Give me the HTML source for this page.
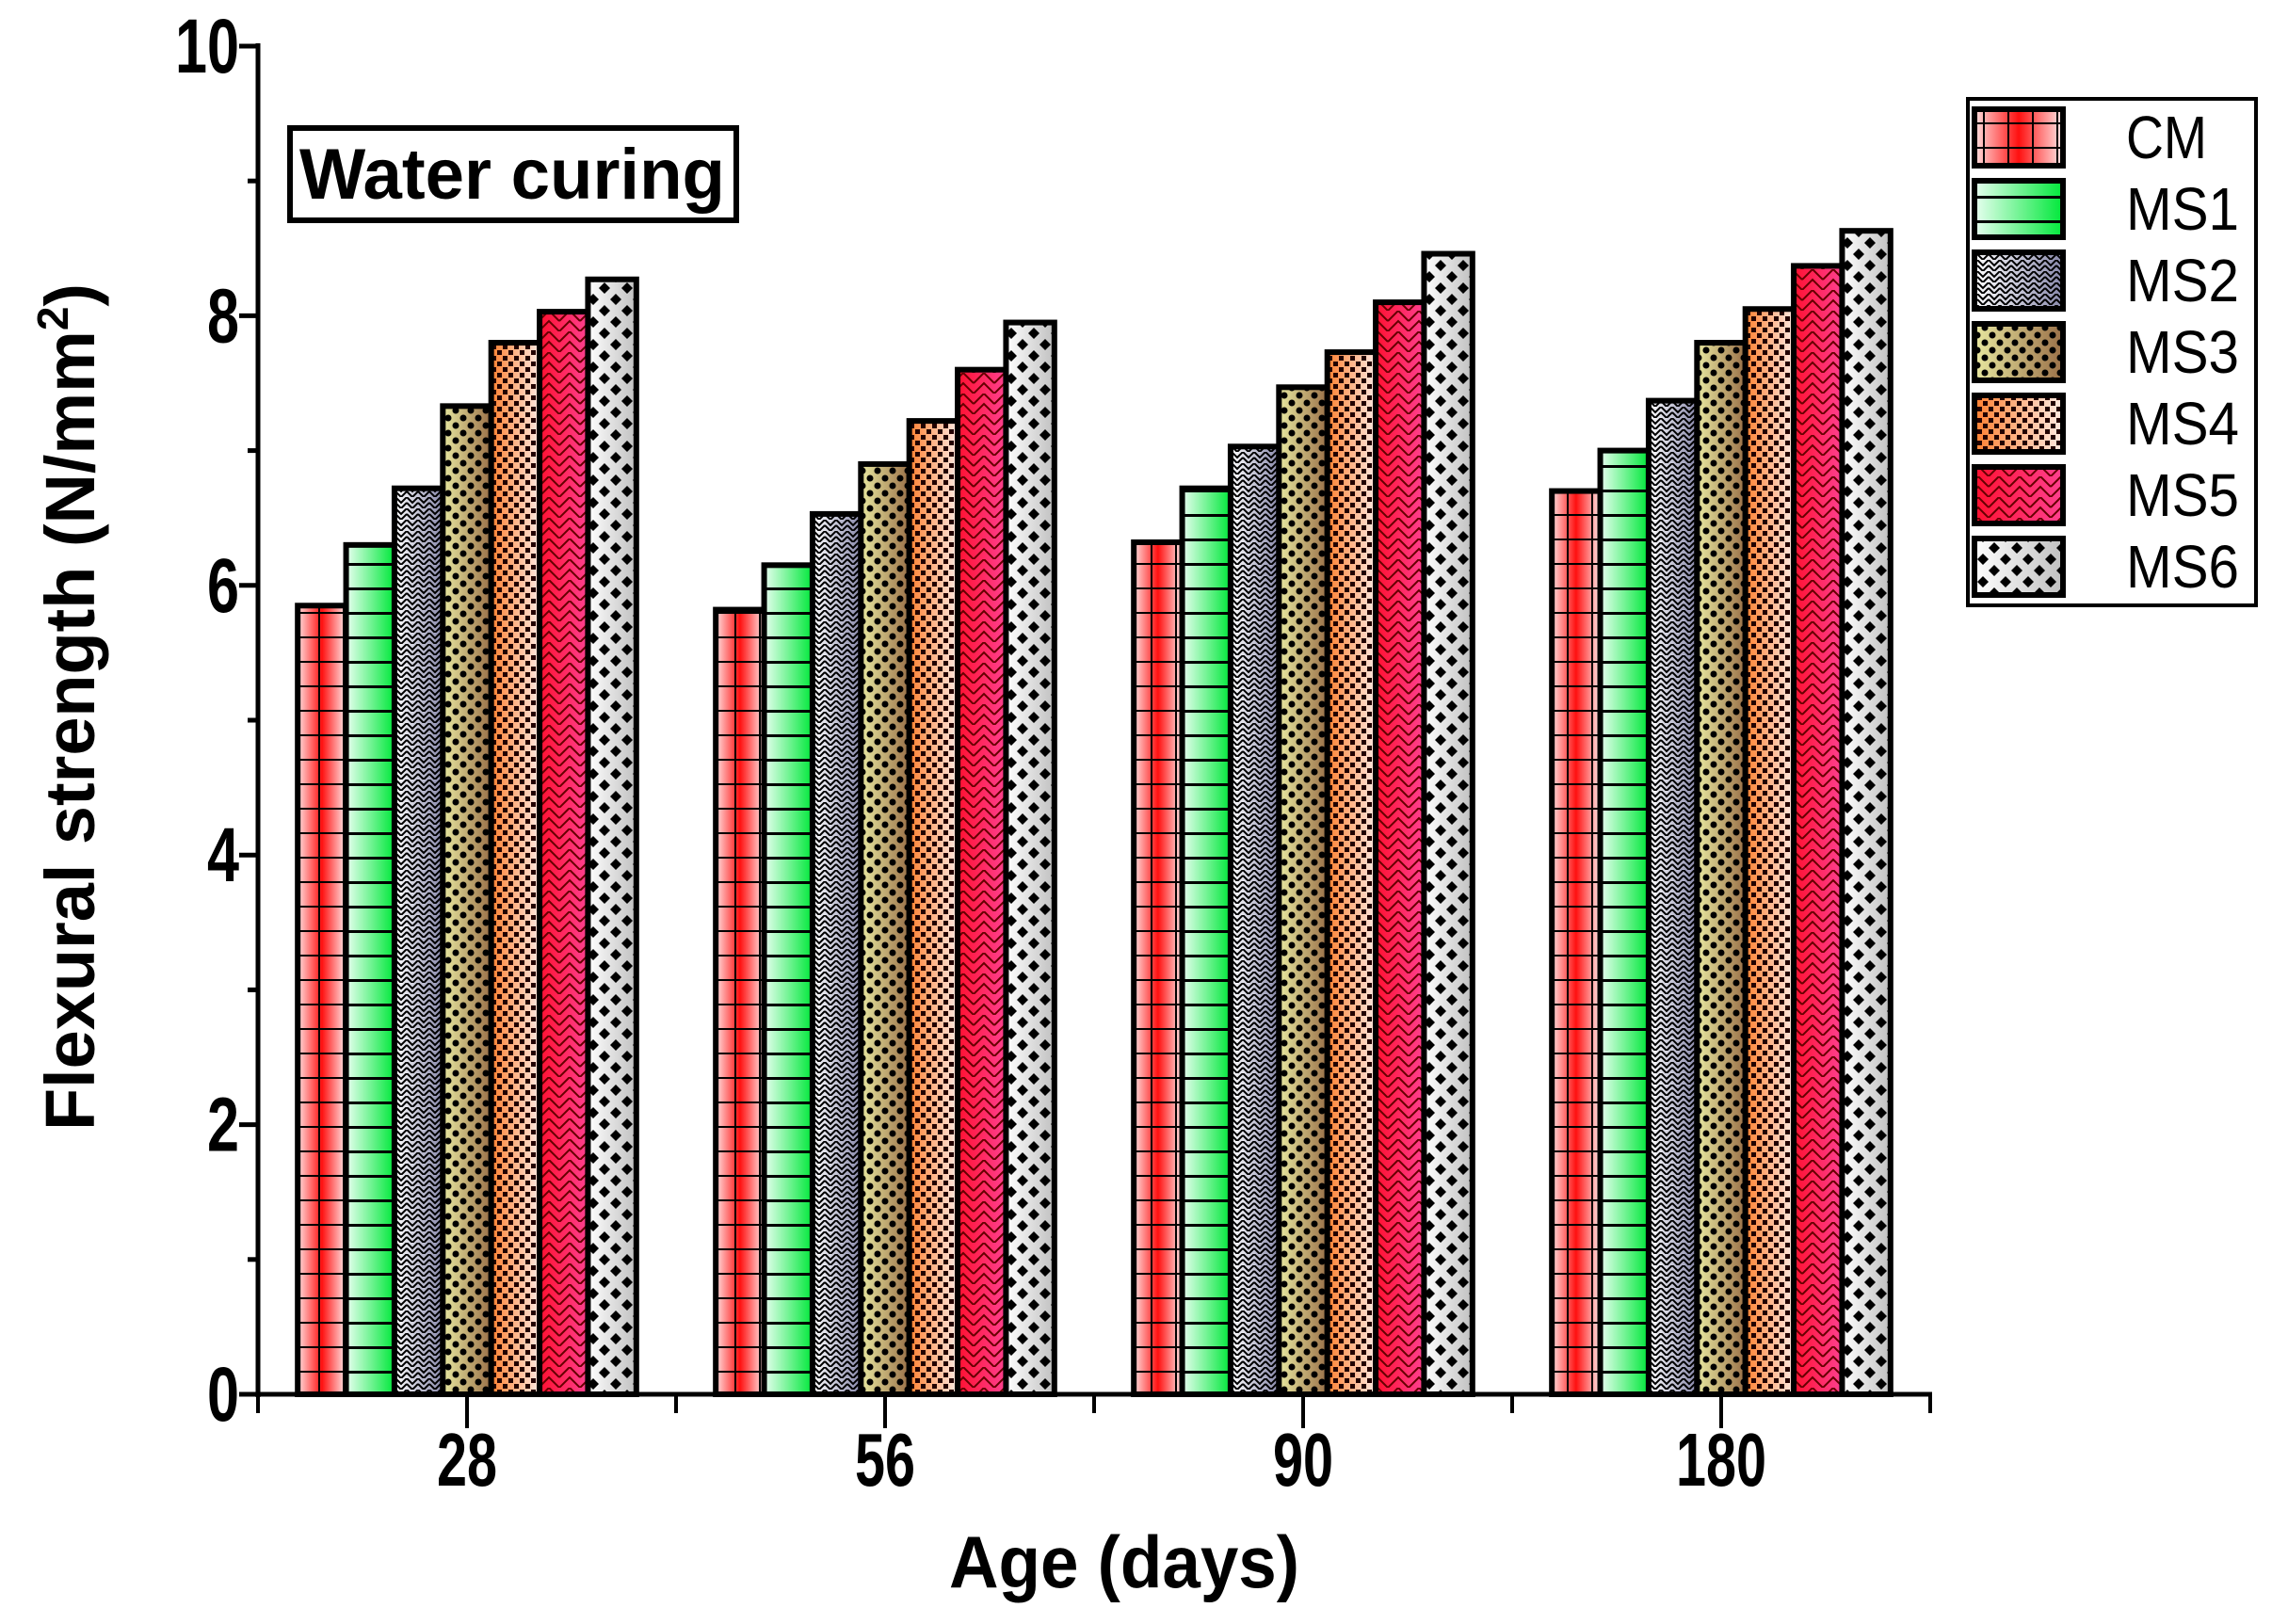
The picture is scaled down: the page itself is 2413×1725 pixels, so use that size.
<!DOCTYPE html>
<html><head><meta charset="utf-8"><style>
html,body{margin:0;padding:0;background:#fff;}
svg{display:block;font-family:"Liberation Sans",Arial,sans-serif;}
</style></head><body>
<svg id="chart" width="2413" height="1725" viewBox="0 0 2413 1725" xmlns="http://www.w3.org/2000/svg">
<defs>
  <linearGradient id="gCM" x1="0" x2="1"><stop offset="0" stop-color="#ffe0e0"/><stop offset="0.5" stop-color="#ff1010"/><stop offset="1" stop-color="#ffe8e8"/></linearGradient>
  <linearGradient id="gMS1" x1="0" x2="1"><stop offset="0" stop-color="#e8fff0"/><stop offset="1" stop-color="#00e83a"/></linearGradient>
  <linearGradient id="gMS2" x1="0" x2="1"><stop offset="0" stop-color="#ffffff"/><stop offset="1" stop-color="#8888aa"/></linearGradient>
  <linearGradient id="gMS3" x1="0" x2="1"><stop offset="0" stop-color="#e8e8a0"/><stop offset="1" stop-color="#9a7048"/></linearGradient>
  <linearGradient id="gMS4" x1="0" x2="1"><stop offset="0" stop-color="#ff8030"/><stop offset="1" stop-color="#ffe8e0"/></linearGradient>
  <linearGradient id="gMS5" x1="0" x2="1"><stop offset="0" stop-color="#ff1030"/><stop offset="1" stop-color="#ff4090"/></linearGradient>
  <linearGradient id="gMS6" x1="0" x2="1"><stop offset="0" stop-color="#ffffff"/><stop offset="1" stop-color="#c0c0c0"/></linearGradient>
  <pattern id="pCM" width="26" height="26" patternUnits="userSpaceOnUse"><path d="M0 0H26M0 0V26" stroke="#000" stroke-width="4"/></pattern>
  <pattern id="pMS1" width="20" height="26" patternUnits="userSpaceOnUse"><path d="M0 1H20" stroke="#000" stroke-width="4"/></pattern>
  <pattern id="pMS2" width="12" height="12" patternUnits="userSpaceOnUse"><path d="M0 0L6 6L12 0M0 6L6 12L12 6" stroke="#000" stroke-width="2" fill="none"/></pattern>
  <pattern id="pMS3" width="16" height="16" patternUnits="userSpaceOnUse"><circle cx="4" cy="4" r="3.5" fill="#000"/><circle cx="12" cy="12" r="3.5" fill="#000"/></pattern>
  <pattern id="pMS4" width="12" height="12" patternUnits="userSpaceOnUse"><rect x="0" y="0" width="5" height="5" fill="#200"/><rect x="6" y="6" width="5" height="5" fill="#200"/></pattern>
  <pattern id="pMS5" width="22" height="22" patternUnits="userSpaceOnUse"><path d="M0 11L11 0L22 11M0 22L11 11L22 22" stroke="#600" stroke-width="2" fill="none"/></pattern>
  <pattern id="pMS6" width="24" height="24" patternUnits="userSpaceOnUse"><path d="M6 0L12 6L6 12L0 6Z M18 12L24 18L18 24L12 18Z" fill="#000"/></pattern>
</defs>
<g id="plot"></g>
<rect x="308" y="136" width="474" height="98" fill="#fff" stroke="#000" stroke-width="6"/>
<text x="318" y="211" font-size="76" font-weight="bold" textLength="452" lengthAdjust="spacingAndGlyphs">Water curing</text>
<text transform="translate(100,751) rotate(-90)" font-size="74" font-weight="bold" text-anchor="middle" textLength="900" lengthAdjust="spacingAndGlyphs">Flexural strength (N/mm<tspan dy="-28" font-size="46">2</tspan><tspan dy="28">)</tspan></text>
<text x="1008" y="1686" font-size="78" font-weight="bold" textLength="372" lengthAdjust="spacingAndGlyphs">Age (days)</text>
<g id="legend"></g>
</svg>
<script>
const categories = ["28", "56", "90", "180"];
const seriesNames = ["CM", "MS1", "MS2", "MS3", "MS4", "MS5", "MS6"];
const valuesCM  = [5.85, 5.82, 6.32, 6.70];
const valuesMS1 = [6.30, 6.15, 6.72, 7.00];
const valuesMS2 = [6.72, 6.53, 7.03, 7.37];
const valuesMS3 = [7.33, 6.90, 7.47, 7.80];
const valuesMS4 = [7.80, 7.22, 7.73, 8.05];
const valuesMS5 = [8.03, 7.60, 8.10, 8.37];
const valuesMS6 = [8.27, 7.95, 8.46, 8.63];
const yTicks = [0, 2, 4, 6, 8, 10];
const yMinorTicks = [1, 3, 5, 7, 9];

const series = [valuesCM, valuesMS1, valuesMS2, valuesMS3, valuesMS4, valuesMS5, valuesMS6];
const NS = "http://www.w3.org/2000/svg";
const X0 = 274, X1 = 2050, Y0 = 1481, Y10 = 49;
const band = (X1 - X0) / categories.length;
const yScale = v => Y0 - (v / 10) * (Y0 - Y10);
const xCenter = i => X0 + band * (i + 0.5);
const barW = band * 0.81 / seriesNames.length;
const plot = document.getElementById('plot');
function mk(tag, attrs, parent) {
  const e = document.createElementNS(NS, tag);
  for (const k in attrs) e.setAttribute(k, attrs[k]);
  parent.appendChild(e);
  return e;
}
categories.forEach((c, i) => {
  const left = xCenter(i) - barW * seriesNames.length / 2;
  series.forEach((vals, s) => {
    const x = left + s * barW, y = yScale(vals[i]), h = Y0 - y;
    const g = mk('g', {}, plot);
    
    
    mk('rect', {x: x, y: y, width: barW, height: h, fill: 'url(#g' + seriesNames[s] + ')'}, g);
    mk('rect', {x: x, y: y, width: barW, height: h, fill: 'url(#p' + seriesNames[s] + ')', stroke: '#000', 'stroke-width': 6}, g);
  });
});
const yAxis = mk('line', {x1: X0, y1: Y10 - 3, x2: X0, y2: Y0 + 3, stroke: '#000', 'stroke-width': 5}, plot);


const xAxis = mk('line', {x1: X0 - 2, y1: Y0, x2: X1 + 2, y2: Y0, stroke: '#000', 'stroke-width': 5}, plot);


yTicks.forEach(t => {
  const y = yScale(t);
  mk('line', {x1: X0 - 20, y1: y, x2: X0, y2: y, stroke: '#000', 'stroke-width': 5}, plot);
  const s = String(t);
  const tx = mk('text', {x: 254, y: y + 28, 'font-size': 82, 'font-weight': 'bold', 'text-anchor': 'end', textLength: 34 * s.length, lengthAdjust: 'spacingAndGlyphs'}, plot);
  
  
  tx.textContent = s;
});
yMinorTicks.forEach(t => {
  const y = yScale(t);
  mk('line', {x1: X0 - 11, y1: y, x2: X0, y2: y, stroke: '#000', 'stroke-width': 5}, plot);
});
categories.forEach((c, i) => {
  const x = xCenter(i);
  mk('line', {x1: x, y1: Y0, x2: x, y2: Y0 + 36, stroke: '#000', 'stroke-width': 4}, plot);
  const tx = mk('text', {x: x, y: 1578, 'font-size': 80, 'font-weight': 'bold', 'text-anchor': 'middle', textLength: 32 * c.length, lengthAdjust: 'spacingAndGlyphs'}, plot);
  
  
  tx.textContent = c;
});
for (let i = 0; i <= categories.length; i++) {
  const x = X0 + band * i;
  mk('line', {x1: x, y1: Y0, x2: x, y2: Y0 + 20, stroke: '#000', 'stroke-width': 4}, plot);
}
const lg = document.getElementById('legend');
mk('rect', {x: 2090, y: 105, width: 306, height: 538, fill: '#fff', stroke: '#000', 'stroke-width': 4}, lg);
seriesNames.forEach((n, s) => {
  const y = 116 + s * 76;
  const g = mk('g', {}, lg);
  
  
  mk('rect', {x: 2097, y: y, width: 94, height: 60, fill: 'url(#g' + n + ')'}, g);
  mk('rect', {x: 2097, y: y, width: 94, height: 60, fill: 'url(#p' + n + ')', stroke: '#000', 'stroke-width': 6}, g);
  const tx = mk('text', {x: 2258, y: y + 52, 'font-size': 64, textLength: n.length === 2 ? 86 : 120, lengthAdjust: 'spacingAndGlyphs'}, g);
  tx.textContent = n;
});
</script>
</body></html>
